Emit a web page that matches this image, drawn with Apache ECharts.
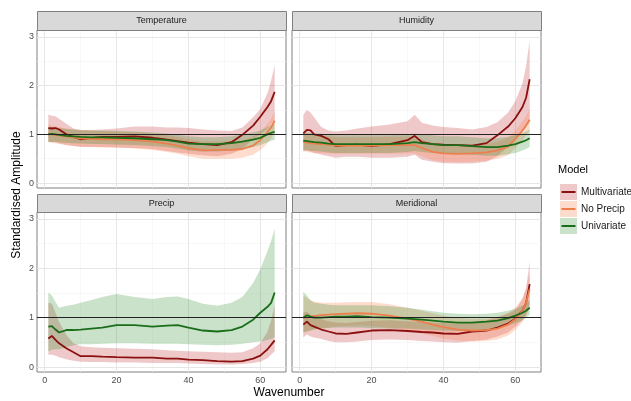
<!DOCTYPE html>
<html>
<head>
<meta charset="utf-8">
<script src="https://cdn.jsdelivr.net/npm/echarts@6/dist/echarts.min.js"></script>
<style>
  html, body { margin: 0; padding: 0; background: #fff; }
  #chart { width: 631px; height: 401px; }
</style>
</head>
<body>
<div id="chart"></div>
<script>
// wavenumbers
const wave = [1, 2, 3, 4, 6, 8, 10, 13, 16, 20, 25, 30, 32, 34, 37, 40, 44, 48, 52, 55, 58, 60, 62, 63, 64];

const xTicks = [0, 20, 40, 60];
const xMinor = [10, 30, 50];
const yTicks = [0, 1, 2, 3];
const yMinor = [0.5, 1.5, 2.5];

const panelNames = ['Temperature', 'Humidity', 'Precip', 'Meridional'];
const modelNames = ['Multivariate', 'No Precip', 'Univariate'];

// Temperature
const tempMultiMid = [1.13, 1.12, 1.13, 1.10, 1.00, 0.95, 0.90, 0.93, 0.95, 0.95, 0.96, 0.93, 0.91, 0.89, 0.86, 0.83, 0.80, 0.78, 0.84, 0.99, 1.18, 1.36, 1.56, 1.68, 1.87];
const tempMultiHi  = [1.40, 1.38, 1.37, 1.32, 1.22, 1.12, 1.09, 1.09, 1.10, 1.12, 1.16, 1.16, 1.15, 1.14, 1.14, 1.13, 1.10, 1.08, 1.07, 1.14, 1.35, 1.52, 1.85, 2.10, 2.42];
const tempMultiLo  = [0.85, 0.84, 0.84, 0.82, 0.78, 0.76, 0.74, 0.74, 0.74, 0.73, 0.72, 0.70, 0.68, 0.66, 0.63, 0.60, 0.57, 0.55, 0.60, 0.70, 0.90, 1.00, 1.12, 1.20, 1.30];
const tempNoPrMid  = [1.02, 1.00, 0.99, 0.98, 0.96, 0.94, 0.92, 0.91, 0.90, 0.90, 0.88, 0.85, 0.83, 0.81, 0.77, 0.72, 0.67, 0.68, 0.68, 0.70, 0.77, 0.88, 1.05, 1.14, 1.28];
const tempNoPrHi   = [1.20, 1.18, 1.17, 1.15, 1.12, 1.10, 1.08, 1.08, 1.07, 1.06, 1.05, 1.02, 1.00, 0.98, 0.95, 0.90, 0.86, 0.86, 0.86, 0.88, 0.95, 1.05, 1.22, 1.32, 1.48];
const tempNoPrLo   = [0.85, 0.83, 0.82, 0.80, 0.78, 0.76, 0.75, 0.74, 0.73, 0.73, 0.71, 0.68, 0.66, 0.64, 0.60, 0.55, 0.50, 0.50, 0.50, 0.52, 0.58, 0.68, 0.82, 0.92, 1.08];
const tempUniMid   = [1.00, 1.01, 1.00, 0.99, 0.97, 0.96, 0.95, 0.94, 0.94, 0.93, 0.92, 0.90, 0.89, 0.88, 0.85, 0.81, 0.80, 0.80, 0.82, 0.85, 0.89, 0.93, 1.00, 1.03, 1.05];
const tempUniHi    = [1.15, 1.15, 1.14, 1.13, 1.11, 1.10, 1.09, 1.08, 1.08, 1.07, 1.06, 1.04, 1.03, 1.02, 0.99, 0.96, 0.94, 0.94, 0.96, 1.00, 1.04, 1.08, 1.15, 1.18, 1.22];
const tempUniLo    = [0.84, 0.85, 0.85, 0.84, 0.83, 0.82, 0.81, 0.80, 0.80, 0.79, 0.78, 0.76, 0.75, 0.74, 0.71, 0.67, 0.65, 0.65, 0.67, 0.70, 0.74, 0.78, 0.84, 0.87, 0.89];

// Humidity
const humMultiMid = [1.02, 1.09, 1.08, 1.00, 0.97, 0.90, 0.76, 0.78, 0.79, 0.76, 0.80, 0.88, 0.97, 0.84, 0.80, 0.79, 0.78, 0.77, 0.82, 0.98, 1.16, 1.33, 1.56, 1.75, 2.13];
const humMultiHi  = [1.40, 1.50, 1.45, 1.35, 1.15, 1.08, 1.06, 1.08, 1.12, 1.16, 1.20, 1.27, 1.40, 1.24, 1.18, 1.15, 1.13, 1.10, 1.15, 1.25, 1.45, 1.68, 2.05, 2.40, 2.93];
const humMultiLo  = [0.65, 0.68, 0.65, 0.62, 0.58, 0.55, 0.52, 0.54, 0.54, 0.52, 0.52, 0.54, 0.58, 0.48, 0.44, 0.41, 0.40, 0.40, 0.44, 0.55, 0.75, 0.92, 1.08, 1.18, 1.30];
const humNoPrMid  = [0.85, 0.83, 0.82, 0.81, 0.80, 0.79, 0.77, 0.77, 0.77, 0.77, 0.78, 0.78, 0.78, 0.72, 0.64, 0.61, 0.60, 0.61, 0.63, 0.67, 0.75, 0.90, 1.08, 1.18, 1.30];
const humNoPrHi   = [1.05, 1.02, 1.00, 0.99, 0.97, 0.96, 0.94, 0.94, 0.94, 0.94, 0.95, 0.95, 0.95, 0.90, 0.82, 0.78, 0.77, 0.78, 0.80, 0.85, 0.93, 1.08, 1.27, 1.38, 1.52];
const humNoPrLo   = [0.66, 0.64, 0.63, 0.62, 0.62, 0.61, 0.60, 0.60, 0.60, 0.60, 0.60, 0.61, 0.61, 0.55, 0.47, 0.44, 0.43, 0.44, 0.46, 0.50, 0.57, 0.72, 0.88, 0.98, 1.08];
const humUniMid   = [0.87, 0.86, 0.85, 0.84, 0.83, 0.81, 0.80, 0.80, 0.80, 0.80, 0.80, 0.82, 0.84, 0.82, 0.80, 0.78, 0.78, 0.76, 0.74, 0.74, 0.77, 0.80, 0.85, 0.88, 0.92];
const humUniHi    = [1.05, 1.04, 1.03, 1.02, 1.01, 0.99, 0.98, 0.98, 0.98, 0.98, 0.98, 1.00, 1.02, 1.00, 0.98, 0.96, 0.96, 0.94, 0.92, 0.92, 0.95, 0.98, 1.03, 1.06, 1.10];
const humUniLo    = [0.68, 0.67, 0.66, 0.66, 0.65, 0.63, 0.62, 0.62, 0.62, 0.62, 0.62, 0.64, 0.66, 0.64, 0.62, 0.60, 0.60, 0.58, 0.56, 0.56, 0.59, 0.62, 0.67, 0.70, 0.74];

// Precip (no "No Precip" model here)
const preMultiMid = [0.58, 0.63, 0.55, 0.48, 0.38, 0.30, 0.22, 0.22, 0.21, 0.20, 0.19, 0.19, 0.18, 0.17, 0.17, 0.15, 0.14, 0.12, 0.11, 0.12, 0.17, 0.23, 0.36, 0.45, 0.54];
const preMultiHi  = [1.30, 1.28, 1.10, 0.92, 0.65, 0.48, 0.42, 0.40, 0.39, 0.38, 0.37, 0.36, 0.35, 0.34, 0.33, 0.32, 0.31, 0.30, 0.29, 0.30, 0.38, 0.48, 0.72, 0.95, 1.25];
const preMultiLo  = [0.25, 0.25, 0.23, 0.20, 0.16, 0.13, 0.11, 0.10, 0.10, 0.09, 0.09, 0.08, 0.08, 0.08, 0.08, 0.07, 0.06, 0.05, 0.05, 0.06, 0.08, 0.11, 0.18, 0.25, 0.32];
const preUniMid   = [0.82, 0.83, 0.76, 0.70, 0.75, 0.75, 0.76, 0.78, 0.80, 0.85, 0.85, 0.82, 0.83, 0.84, 0.85, 0.80, 0.74, 0.72, 0.75, 0.82, 0.96, 1.10, 1.22, 1.30, 1.51];
const preUniHi    = [1.51, 1.45, 1.32, 1.20, 1.24, 1.26, 1.30, 1.36, 1.42, 1.48, 1.42, 1.38, 1.40, 1.42, 1.43, 1.38, 1.28, 1.24, 1.30, 1.42, 1.70, 1.98, 2.35, 2.55, 2.80];
const preUniLo    = [0.32, 0.35, 0.36, 0.36, 0.40, 0.44, 0.46, 0.46, 0.47, 0.48, 0.48, 0.47, 0.47, 0.47, 0.47, 0.46, 0.45, 0.44, 0.45, 0.47, 0.50, 0.52, 0.55, 0.57, 0.60];

// Meridional
const merMultiMid = [0.86, 0.92, 0.85, 0.82, 0.76, 0.72, 0.68, 0.67, 0.70, 0.74, 0.75, 0.73, 0.72, 0.71, 0.70, 0.68, 0.67, 0.72, 0.74, 0.80, 0.88, 0.98, 1.15, 1.30, 1.68];
const merMultiHi  = [1.10, 1.12, 1.06, 1.02, 0.97, 0.93, 0.90, 0.89, 0.91, 0.94, 0.95, 0.93, 0.92, 0.91, 0.90, 0.89, 0.88, 0.92, 0.95, 1.00, 1.08, 1.15, 1.38, 1.60, 2.14];
const merMultiLo  = [0.60, 0.66, 0.62, 0.60, 0.57, 0.53, 0.50, 0.50, 0.52, 0.55, 0.56, 0.55, 0.54, 0.53, 0.52, 0.50, 0.49, 0.53, 0.56, 0.62, 0.70, 0.82, 0.95, 1.05, 1.20];
const merNoPrMid  = [1.00, 1.00, 1.02, 1.03, 1.05, 1.06, 1.07, 1.08, 1.09, 1.08, 1.04, 0.98, 0.95, 0.92, 0.86, 0.81, 0.76, 0.74, 0.75, 0.78, 0.86, 0.97, 1.15, 1.30, 1.58];
const merNoPrHi   = [1.45, 1.40, 1.36, 1.33, 1.30, 1.30, 1.30, 1.31, 1.32, 1.32, 1.27, 1.20, 1.17, 1.14, 1.09, 1.04, 1.00, 0.98, 0.98, 1.02, 1.10, 1.20, 1.40, 1.58, 1.90];
const merNoPrLo   = [0.70, 0.72, 0.74, 0.76, 0.78, 0.80, 0.82, 0.83, 0.84, 0.83, 0.79, 0.74, 0.71, 0.68, 0.63, 0.58, 0.54, 0.52, 0.53, 0.56, 0.64, 0.75, 0.92, 1.05, 1.30];
const merUniMid   = [1.00, 1.05, 1.02, 1.00, 1.00, 1.01, 1.02, 1.02, 1.03, 1.01, 1.00, 0.98, 0.97, 0.96, 0.94, 0.92, 0.90, 0.90, 0.92, 0.94, 0.99, 1.04, 1.10, 1.14, 1.20];
const merUniHi    = [1.52, 1.45, 1.35, 1.30, 1.28, 1.26, 1.25, 1.25, 1.25, 1.25, 1.23, 1.20, 1.18, 1.16, 1.13, 1.10, 1.08, 1.07, 1.08, 1.10, 1.14, 1.18, 1.24, 1.28, 1.35];
const merUniLo    = [0.70, 0.72, 0.74, 0.76, 0.78, 0.79, 0.80, 0.80, 0.80, 0.79, 0.78, 0.78, 0.77, 0.76, 0.75, 0.74, 0.73, 0.74, 0.76, 0.78, 0.84, 0.89, 0.95, 1.00, 1.06];

const lineColors = ['#8b1010', '#ec7f4c', '#1a6e1a'];
const fillColors = ['rgba(190,40,40,0.25)', 'rgba(250,130,80,0.28)', 'rgba(40,140,40,0.25)'];
const keyFills = ['#efc9c9', '#fddcce', '#c9e2c9'];

// per panel: [modelIndex, lo, mid, hi]
const panelData = [
    [[0, tempMultiLo, tempMultiMid, tempMultiHi], [1, tempNoPrLo, tempNoPrMid, tempNoPrHi], [2, tempUniLo, tempUniMid, tempUniHi]],
    [[0, humMultiLo, humMultiMid, humMultiHi], [1, humNoPrLo, humNoPrMid, humNoPrHi], [2, humUniLo, humUniMid, humUniHi]],
    [[0, preMultiLo, preMultiMid, preMultiHi], [2, preUniLo, preUniMid, preUniHi]],
    [[0, merMultiLo, merMultiMid, merMultiHi], [1, merNoPrLo, merNoPrMid, merNoPrHi], [2, merUniLo, merUniMid, merUniHi]]
];

const grids = [
    { left: 37, top: 30, width: 249, height: 158 },
    { left: 292, top: 30, width: 249, height: 158 },
    { left: 37, top: 212, width: 249, height: 160 },
    { left: 292, top: 212, width: 249, height: 160 }
];

const FONT = '"Liberation Sans", Arial, sans-serif';

function ribbonSeries(gi, lo, hi, fill) {
    return {
        type: 'custom',
        xAxisIndex: gi,
        yAxisIndex: gi,
        z: 2,
        silent: true,
        data: wave.map((w, i) => [w, lo[i], hi[i]]),
        encode: { x: 0, y: [1, 2] },
        renderItem: function (params, api) {
            if (params.dataIndex !== 0) return null;
            const pts = [];
            for (let i = 0; i < wave.length; i++) pts.push(api.coord([wave[i], hi[i]]));
            for (let i = wave.length - 1; i >= 0; i--) pts.push(api.coord([wave[i], lo[i]]));
            return { type: 'polygon', shape: { points: pts }, style: { fill: fill, stroke: null } };
        }
    };
}

function gridLines() {
    const major = { color: '#e6e6e6', width: 1, type: 'solid' };
    const minor = { color: '#f3f3f3', width: 0.6, type: 'solid' };
    const d = [];
    xTicks.forEach(v => d.push({ xAxis: v, lineStyle: major }));
    xMinor.forEach(v => d.push({ xAxis: v, lineStyle: minor }));
    yTicks.forEach(v => d.push({ yAxis: v, lineStyle: major }));
    yMinor.forEach(v => d.push({ yAxis: v, lineStyle: minor }));
    return d;
}

const series = [];
panelData.forEach((models, gi) => {
    models.forEach(m => series.push(ribbonSeries(gi, m[1], m[3], fillColors[m[0]])));
    models.forEach((m, k) => {
        const s = {
            type: 'line',
            name: modelNames[m[0]],
            xAxisIndex: gi,
            yAxisIndex: gi,
            z: 4,
            silent: true,
            symbol: 'none',
            data: wave.map((w, i) => [w, m[2][i]]),
            lineStyle: { color: lineColors[m[0]], width: 1.8 },
            itemStyle: { color: lineColors[m[0]] }
        };
        if (k === 0) {
            s.markLine = { silent: true, z: 1, symbol: ['none', 'none'], label: { show: false }, data: gridLines() };
        }
        if (k === models.length - 1) {
            s.markLine = { silent: true, z: 5, symbol: ['none', 'none'], label: { show: false },
                lineStyle: { color: '#222', width: 1.2, type: 'solid' }, data: [{ yAxis: 1 }] };
        }
        series.push(s);
    });
});

const xAxes = grids.map((g, gi) => ({
    gridIndex: gi, type: 'value', min: -2.15, max: 67.15,
    axisLine: { show: false }, splitLine: { show: false },
    axisTick: { show: gi >= 2, customValues: xTicks, length: 3, lineStyle: { color: '#333' } },
    axisLabel: { show: gi >= 2, customValues: xTicks, color: '#4d4d4d', fontSize: 9, fontFamily: FONT, margin: 4 }
}));
const yAxes = grids.map((g, gi) => ({
    gridIndex: gi, type: 'value', min: -0.1, max: 3.14,
    axisLine: { show: false }, splitLine: { show: false },
    axisTick: { show: gi % 2 === 0, customValues: yTicks, length: 3, lineStyle: { color: '#333' } },
    axisLabel: { show: gi % 2 === 0, customValues: yTicks, color: '#4d4d4d', fontSize: 9, fontFamily: FONT, margin: 3 }
}));

// strips, titles, legend
const graphics = [];
grids.forEach((g, gi) => {
    const top = gi < 2 ? 11 : 194;
    graphics.push({ type: 'rect', shape: { x: g.left + 0.5, y: top + 0.5, width: g.width, height: g.top - top },
        style: { fill: '#d9d9d9', stroke: '#808080', lineWidth: 1 }, z: 10 });
    graphics.push({ type: 'text', x: g.left + g.width / 2, y: top + (g.top - top) / 2 + 0.5, z: 11,
        style: { text: panelNames[gi], fill: '#1a1a1a', font: '9px ' + FONT, textAlign: 'center', textVerticalAlign: 'middle' } });
});
graphics.push({ type: 'text', x: 17, y: 195, rotation: Math.PI / 2, z: 11,
    style: { text: 'Standardised Amplitude', fill: '#000', font: '12px ' + FONT, textAlign: 'center', textVerticalAlign: 'middle' } });
graphics.push({ type: 'text', x: 289, y: 393, z: 11,
    style: { text: 'Wavenumber', fill: '#000', font: '12px ' + FONT, textAlign: 'center', textVerticalAlign: 'middle' } });
graphics.push({ type: 'text', x: 558, y: 170, z: 11,
    style: { text: 'Model', fill: '#000', font: '11px ' + FONT, textAlign: 'left', textVerticalAlign: 'middle' } });
modelNames.forEach((name, k) => {
    const cy = 192 + k * 17;
    graphics.push({ type: 'rect', shape: { x: 560, y: cy - 8, width: 17, height: 16 }, style: { fill: keyFills[k] }, z: 10 });
    graphics.push({ type: 'line', shape: { x1: 561.5, y1: cy, x2: 575.5, y2: cy }, style: { stroke: lineColors[k], lineWidth: 2 }, z: 11 });
    graphics.push({ type: 'text', x: 581, y: cy, z: 11,
        style: { text: name, fill: '#1a1a1a', font: '10px ' + FONT, textAlign: 'left', textVerticalAlign: 'middle' } });
});

const chart = echarts.init(document.getElementById('chart'));
chart.setOption({
    animation: false,
    backgroundColor: '#fff',
    grid: grids.map(g => Object.assign({ show: true, backgroundColor: '#fff', borderColor: '#808080', borderWidth: 1 }, g)),
    xAxis: xAxes,
    yAxis: yAxes,
    series: series,
    graphic: graphics
});
</script>
</body>
</html>
